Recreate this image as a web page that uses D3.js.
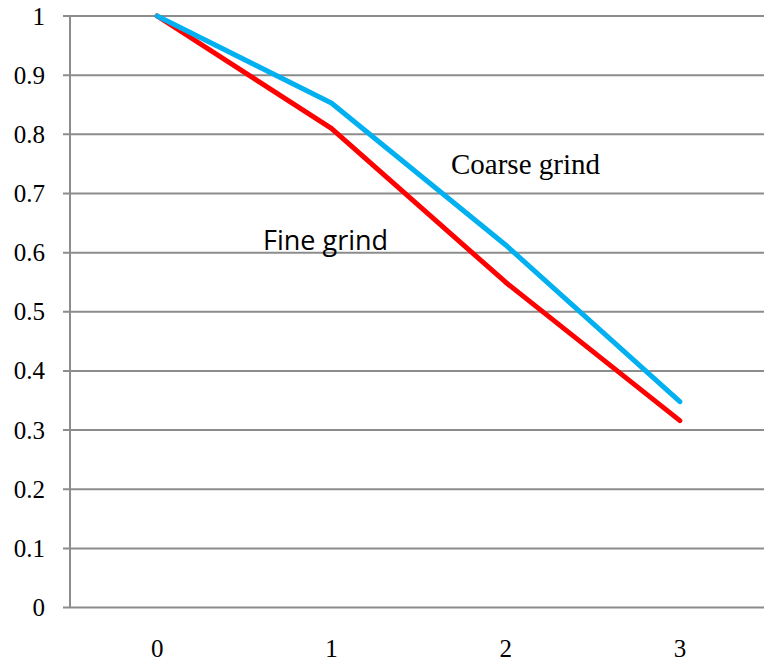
<!DOCTYPE html>
<html><head><meta charset="utf-8">
<script src="https://cdn.jsdelivr.net/npm/d3@7"></script>
<style>body{margin:0;background:#fff}svg{display:block}</style>
</head><body>
<svg id="c" width="764" height="662"></svg>
<script>
const categories = ["0","1","2","3"];
const coarse = [1.0, 0.853, 0.613, 0.348];
const fine = [1.0, 0.81, 0.55, 0.316];
const yTicks = [0,0.1,0.2,0.3,0.4,0.5,0.6,0.7,0.8,0.9,1];
const yTickLabels = ["0","0.1","0.2","0.3","0.4","0.5","0.6","0.7","0.8","0.9","1"];

const serif = "'Liberation Serif', 'Times New Roman', serif";
const svg = d3.select("#c");
const mLeft = 70, mRight = 767, mTop = 16, mBottom = 607.6;
const x = d3.scaleBand().domain(categories).range([mLeft, mRight]);
const y = d3.scaleLinear().domain([0,1]).range([mBottom, mTop]);
const cx = d => x(d) + x.bandwidth()/2;

// gridlines
svg.append("g").selectAll("line").data(yTicks).join("line")
  .attr("x1", mLeft - 7).attr("x2", 764)
  .attr("y1", d => y(d)).attr("y2", d => y(d))
  .attr("stroke", "#8c8c8c").attr("stroke-width", 2);
// y axis line
svg.append("line").attr("x1", mLeft).attr("x2", mLeft).attr("y1", mTop).attr("y2", mBottom)
  .attr("stroke", "#8c8c8c").attr("stroke-width", 2);

// y labels
svg.append("g").selectAll("text").data(yTicks).join("text")
  .attr("x", 45).attr("y", d => y(d)).attr("dy", "0.34em")
  .attr("text-anchor", "end")
  .style("font-family", serif)
  .style("font-size", "25px").attr("fill", "#000")
  .text((d,i) => yTickLabels[i]);

// x labels
svg.append("g").selectAll("text").data(categories).join("text")
  .attr("x", d => cx(d)).attr("y", 657)
  .attr("text-anchor", "middle")
  .style("font-family", serif)
  .style("font-size", "25px").attr("fill", "#000")
  .text(d => d);

const line = d3.line().x((d,i) => cx(categories[i])).y(d => y(d));
svg.append("path").datum(fine).attr("d", line).attr("fill","none")
  .attr("stroke","#ff0000").attr("stroke-width",5).attr("stroke-linecap","round").attr("stroke-linejoin","round");
svg.append("path").datum(coarse).attr("d", line).attr("fill","none")
  .attr("stroke","#00b0f0").attr("stroke-width",5).attr("stroke-linecap","round").attr("stroke-linejoin","round");

svg.append("text").attr("x", 451).attr("y", 174)
  .style("font-family", serif)
  .style("font-size", "29px").attr("fill","#000").text("Coarse grind");
svg.append("text").attr("x", 263).attr("y", 250)
  .style("font-family", "'Open Sans', 'Liberation Sans', sans-serif")
  .style("font-size", "27px").attr("fill","#000").text("Fine grind");
</script>
</body></html>
